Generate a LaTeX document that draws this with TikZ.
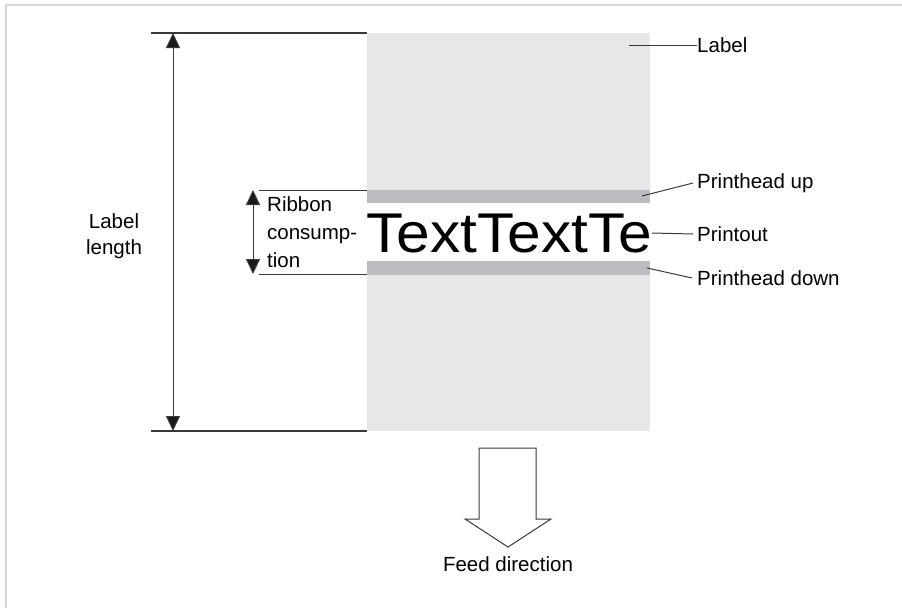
\documentclass[tikz,border=0pt]{standalone}
\usepackage{fontspec}
\setmainfont{Liberation Sans}
\usetikzlibrary{arrows.meta}
\definecolor{labelfill}{HTML}{E6E7E8}
\definecolor{bandfill}{HTML}{BCBDC0}
\definecolor{linecol}{HTML}{3A3A3A}
\definecolor{framecol}{HTML}{D6D6D6}
\begin{document}
\begin{tikzpicture}[x=1pt,y=-1pt,
  txt/.style={inner sep=0pt,font=\fontsize{20.5}{26}\selectfont,text=black},
  leader/.style={draw=linecol,line width=1pt},
  dimline/.style={draw=linecol,line width=1.2pt},
  dimarrow/.style={draw=linecol,line width=1pt,{Triangle[length=15pt,width=14pt,fill=black!90]}-{Triangle[length=15pt,width=14pt,fill=black!90]}},
  feedarrow/.style={draw=linecol,line width=1pt,fill=white,line join=miter}]
\useasboundingbox (0,0) rectangle (902,608);
\fill[white] (0,0) rectangle (902,608);
% frame lines
\draw[framecol,line width=1.5pt] (6,608) -- (6,5) -- (902,5);
% label
\fill[labelfill] (367,33) rectangle (650,431);
\fill[white] (367,203) rectangle (650,261);
\fill[bandfill] (367,190) rectangle (650,203);
\fill[bandfill] (367,261) rectangle (650,275);
\coordinate (labelin) at (629,45);
\coordinate (phupin) at (642,196);
\coordinate (phdownin) at (647,268);
% printout text
\node[inner sep=0pt,anchor=base west,font=\fontsize{56}{56}\selectfont] (printtext) at (366,252) {\scalebox{1.08}[1]{TextTextTe}};
\coordinate (printin) at (652,233);
% labels on right
\node[txt,anchor=west] (lbl) at (697,45) {Label};
\node[txt,anchor=west] (phup) at (697,183) {Printhead up};
\node[txt,anchor=west] (pout) at (697,234) {Printout};
\node[txt,anchor=west] (phdown) at (697,278) {Printhead down};
\draw[leader] (labelin) -- (lbl.west);
\draw[leader] (phupin) -- ([xshift=-4pt]phup.west);
\draw[leader] (printin) -- ([xshift=-4pt]pout.west);
\draw[leader] (phdownin) -- ([xshift=-5pt]phdown.west);
% label length dimension
\coordinate (lltop) at (173,33);
\coordinate (llbot) at (173,431);
\coordinate (lltopL) at (151,33);
\coordinate (lltopR) at (367,33);
\coordinate (llbotL) at (151,431);
\coordinate (llbotR) at (367,431);
\draw[dimline] (lltopL) -- (lltopR);
\draw[dimline] (llbotL) -- (llbotR);
\draw[dimarrow] (lltop) -- (llbot);
\node[txt,align=center] (lltext) at (114,236) {Label\\length};
% ribbon consumption dimension
\coordinate (rtop) at (253,190);
\coordinate (rbot) at (253,274);
\coordinate (rtopL) at (259,190);
\coordinate (rtopR) at (367,190);
\coordinate (rbotL) at (259,274);
\coordinate (rbotR) at (367,274);
\draw[leader] (rtopL) -- (rtopR);
\draw[leader] (rbotL) -- (rbotR);
\draw[dimarrow] (rtop) -- (rbot);
\node[txt,align=left,anchor=west,font=\fontsize{20.5}{28}\selectfont] (rtext) at (267,232) {Ribbon\\consump-\\tion};
% feed direction arrow
\draw[feedarrow] (479,448) -- (536,448) -- (536,519) -- (551,519) -- (508,547) -- (465,519) -- (479,519) -- cycle;
\coordinate (feedtip) at (508,547);
\node[txt,anchor=north] (feed) at ([yshift=-9pt]feedtip) {Feed direction};
\end{tikzpicture}
\end{document}
